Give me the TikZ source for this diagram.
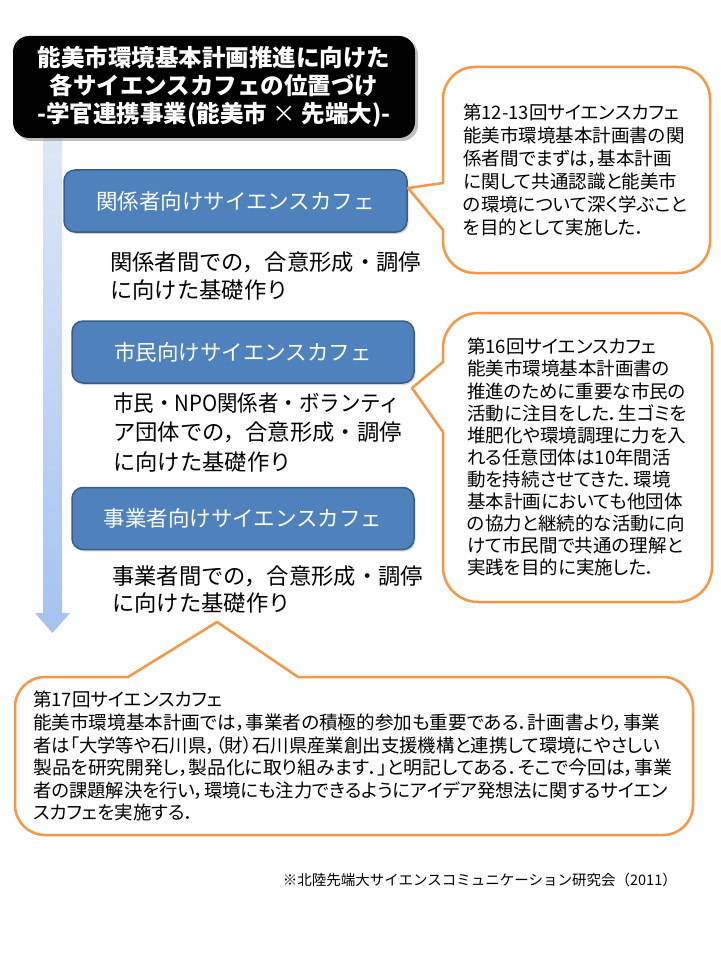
\documentclass[tikz,border=0pt]{standalone}
\usepackage{graphicx}
\usepackage{fontspec}
\setmainfont{Noto Sans CJK JP}
\newfontfamily\pfont{Noto Sans CJK JP}[RawFeature=+palt]
\usetikzlibrary{shadows}
\definecolor{boxblue}{HTML}{4F81BD}
\definecolor{boxedge}{HTML}{385D8A}
\definecolor{callorange}{HTML}{F79646}
\definecolor{arrtop}{HTML}{DDE7F6}
\definecolor{arrbot}{HTML}{A5C2F1}
\newcommand\fitto[2]{\resizebox{#1}{\height}{#2}}
\begin{document}
\begin{tikzpicture}[x=1pt,y=-1pt,
  titlebox/.style={fill=black, rounded corners=16pt, minimum width=402pt, minimum height=102pt,
    text=white, font=\fontsize{23.5}{28}\selectfont\bfseries, align=center,
    drop shadow={shadow xshift=3pt, shadow yshift=-3pt, opacity=0.5}},
  bluebox/.style={fill=boxblue, draw=boxedge, line width=1.5pt, rounded corners=11pt,
    minimum height=62pt, text=white, font=\fontsize{21.5}{26}\selectfont,
    drop shadow={shadow xshift=1.5pt, shadow yshift=-2pt, opacity=0.3}},
  body/.style={anchor=north west, inner sep=0pt, align=left, font=\fontsize{22.3}{28}\selectfont},
  calltext/.style={anchor=north west, inner sep=0pt, align=left, font=\pfont\fontsize{18.5}{23}\selectfont},
  callout/.style={draw=callorange, line width=2.5pt, fill=white, line join=round}
]
\useasboundingbox (0,0) rectangle (720,960);
\fill[white] (0,0) rectangle (720,960);

% timeline arrow
\shade[top color=arrtop, bottom color=arrbot]
  (43,138) -- (62,138) -- (62,613) -- (70,613) -- (52.5,633) -- (35,613) -- (43,613) -- cycle;

% title
\node[titlebox] (title) at (214,87) {能美市環境基本計画推進に向けた\\各サイエンスカフェの位置づけ\\-学官連携事業(能美市 {\mdseries ×} 先端大)-};

% blue boxes
\node[bluebox, minimum width=343pt] (b1) at (235.5,201) {関係者向けサイエンスカフェ};
\node[bluebox, minimum width=342pt] (b2) at (243,352) {市民向けサイエンスカフェ};
\node[bluebox, minimum width=342pt] (b3) at (243,518.5) {事業者向けサイエンスカフェ};

% body texts
\node[body] (t1) at (110,252) {関係者間での，合意形成・調停\\に向けた基礎作り};
\node[body, font=\fontsize{22.3}{29.5}\selectfont] (t2) at (113,392) {\fitto{287pt}{市民・NPO関係者・ボランティ}\\ア団体での，合意形成・調停\\に向けた基礎作り};
\node[body, font=\fontsize{22.3}{26.5}\selectfont] (t3) at (112,566) {事業者間での，合意形成・調停\\に向けた基礎作り};

% callout 1
\draw[callout] (443,183) -- (408,188) -- (443,230) -- (443,241)
  .. controls (443,258.7) and (457.3,273) .. (475,273) -- (678,273)
  .. controls (695.7,273) and (710,258.7) .. (710,241) -- (710,99)
  .. controls (710,81.3) and (695.7,67) .. (678,67) -- (475,67)
  .. controls (457.3,67) and (443,81.3) .. (443,99) -- cycle;
\node[calltext] (c1) at (463,104) {第12-13回サイエンスカフェ\\能美市環境基本計画書の関\\係者間でまずは，基本計画\\に関して共通認識と能美市\\の環境について深く学ぶこと\\を目的として実施した．};

% callout 2
\draw[callout] (443,362) -- (412,388) -- (443,432) -- (443,567)
  .. controls (443,586.3) and (458.7,602) .. (478,602) -- (677,602)
  .. controls (696.3,602) and (712,586.3) .. (712,567) -- (712,348)
  .. controls (712,328.7) and (696.3,313) .. (677,313) -- (478,313)
  .. controls (458.7,313) and (443,328.7) .. (443,348) -- cycle;
\node[calltext, font=\pfont\fontsize{18.5}{22.1}\selectfont] (c2) at (467,338) {第16回サイエンスカフェ\\能美市環境基本計画書の\\推進のために重要な市民の\\活動に注目をした．生ゴミを\\堆肥化や環境調理に力を入\\れる任意団体は10年間活\\動を持続させてきた．環境\\基本計画においても他団体\\の協力と継続的な活動に向\\けて市民間で共通の理解と\\実践を目的に実施した．};

% callout 3
\draw[callout] (298,677) -- (217,622) -- (128,677) -- (45,677)
  .. controls (28.4,677) and (15,690.4) .. (15,707) -- (15,805)
  .. controls (15,821.6) and (28.4,835) .. (45,835) -- (663,835)
  .. controls (679.6,835) and (693,821.6) .. (693,805) -- (693,707)
  .. controls (693,690.4) and (679.6,677) .. (663,677) -- cycle;
\node[calltext, font=\pfont\fontsize{18.5}{22.6}\selectfont] (c3) at (33,691) {第17回サイエンスカフェ\\
\fitto{627pt}{能美市環境基本計画では，事業者の積極的参加も重要である．計画書より，事業}\\
\fitto{627pt}{者は「大学等や石川県，（財）石川県産業創出支援機構と連携して環境にやさしい}\\
\fitto{639pt}{製品を研究開発し，製品化に取り組みます．」と明記してある．そこで今回は，事業}\\
\fitto{635pt}{者の課題解決を行い，環境にも注力できるようにアイデア発想法に関するサイエン}\\
スカフェを実施する．};

% footnote
\node[anchor=east, inner sep=0pt, font=\fontsize{14.5}{16}\selectfont] (note) at (677,880) {※北陸先端大サイエンスコミュニケーション研究会（2011）};
\end{tikzpicture}
\end{document}
